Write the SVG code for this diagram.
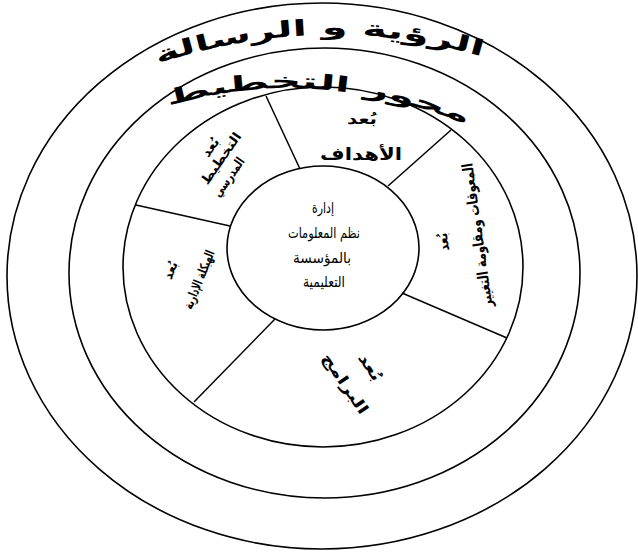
<svg xmlns="http://www.w3.org/2000/svg" width="638" height="553" viewBox="0 0 638 553">
<defs>
<style>
.ring{fill:none;stroke:#000;stroke-width:1.6}
.div{stroke:#000;stroke-width:1.5;fill:none}
.hw{font-family:"DejaVu Sans",sans-serif;font-weight:bold;fill:#000;text-anchor:middle}
.ctr{font-family:"DejaVu Sans",sans-serif;font-size:15px;fill:#000;text-anchor:middle}
</style>
<path id="arcOuter" d="M 140 70 Q 320 4 500 62"/>
<path id="arcMid" d="M 150 112 Q 310 56 485 132"/>
</defs>
<rect width="638" height="553" fill="#fff"/>
<g id="ring-vision">
<ellipse class="ring" cx="322" cy="276" rx="315" ry="273"/>
<text class="hw" font-size="22"><textPath href="#arcOuter" startOffset="50%" textLength="330" lengthAdjust="spacingAndGlyphs">الرؤية و الرسالة</textPath></text>
</g>
<g id="ring-planning">
<ellipse class="ring" cx="324.5" cy="273" rx="255.5" ry="225"/>
<text class="hw" font-size="21"><textPath href="#arcMid" startOffset="50%" textLength="305" lengthAdjust="spacingAndGlyphs">محور التخطيط</textPath></text>
</g>
<g id="ring-dimensions">
<ellipse class="ring" cx="323" cy="267" rx="200" ry="180"/>
</g>
<g id="connectors">
<line class="div" x1="266" y1="96" x2="300" y2="169"/>
<line class="div" x1="388" y1="186" x2="451" y2="130"/>
<line class="div" x1="402" y1="293" x2="507" y2="338"/>
<line class="div" x1="275" y1="319" x2="194" y2="402"/>
<line class="div" x1="230" y1="226" x2="136" y2="205"/>
</g>
<g id="center">
<ellipse class="ring" cx="323" cy="248" rx="96" ry="82"/>
<text class="ctr" x="323" y="213" textLength="22" lengthAdjust="spacingAndGlyphs">إدارة</text>
<text class="ctr" x="324" y="238" textLength="72" lengthAdjust="spacingAndGlyphs">نظم المعلومات</text>
<text class="ctr" x="322" y="263" textLength="58" lengthAdjust="spacingAndGlyphs">بالمؤسسة</text>
<text class="ctr" x="324" y="287" textLength="42" lengthAdjust="spacingAndGlyphs">التعليمية</text>
</g>
<g id="seg-goals">
<text class="hw" x="362" y="124" font-size="15" textLength="30" lengthAdjust="spacingAndGlyphs">بُعد</text>
<text class="hw" x="361" y="160" font-size="17" textLength="82" lengthAdjust="spacingAndGlyphs">الأهداف</text>
</g>
<g id="seg-obstacles" transform="translate(443,242) rotate(-98)">
<text class="hw" x="0" y="5" font-size="14" textLength="18" lengthAdjust="spacingAndGlyphs">بُعد</text>
<text class="hw" x="2" y="40" font-size="15" textLength="145" lengthAdjust="spacingAndGlyphs">المعوقات ومقاومة التغيير</text>
</g>
<g id="seg-programs" transform="translate(370,367) rotate(56)">
<text class="hw" x="0" y="5" font-size="15" textLength="30" lengthAdjust="spacingAndGlyphs">بُعد</text>
<text class="hw" x="0" y="35" font-size="15" textLength="70" lengthAdjust="spacingAndGlyphs">البرامج</text>
</g>
<g id="seg-structure" transform="translate(170,270) rotate(-68)">
<text class="hw" x="0" y="5" font-size="13" textLength="18" lengthAdjust="spacingAndGlyphs">بُعد</text>
<text class="hw" x="2" y="35" font-size="13" textLength="62" lengthAdjust="spacingAndGlyphs">الهيكلة الإدارية</text>
</g>
<g id="seg-school" transform="translate(210,147) rotate(-55)">
<text class="hw" x="0" y="5" font-size="13" textLength="20" lengthAdjust="spacingAndGlyphs">بُعد</text>
<text class="hw" x="-3" y="20" font-size="13" textLength="60" lengthAdjust="spacingAndGlyphs">التخطيط</text>
<text class="hw" x="-14" y="37" font-size="13" textLength="45" lengthAdjust="spacingAndGlyphs">المدرسي</text>
</g>
</svg>
